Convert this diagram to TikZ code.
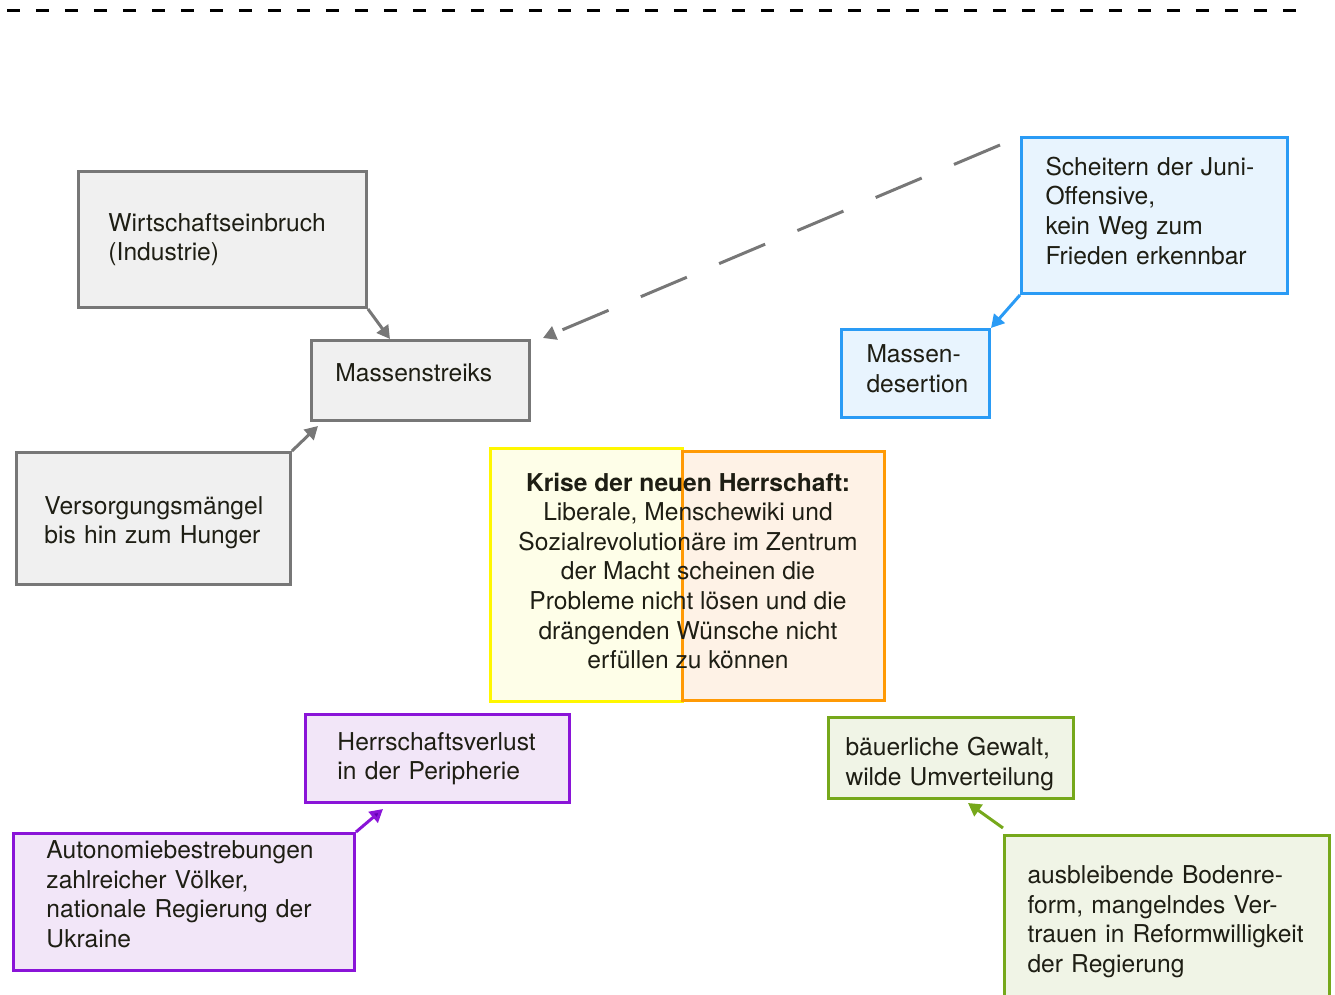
\documentclass[tikz,border=0pt]{standalone}
\usepackage{fontspec}
\setmainfont{TeX Gyre Heros}
\usetikzlibrary{arrows.meta}
\definecolor{greyline}{HTML}{777777}
\definecolor{greyfill}{HTML}{F0F0F0}
\definecolor{blueline}{HTML}{2A9BF5}
\definecolor{bluefill}{HTML}{E8F4FE}
\definecolor{yelline}{HTML}{FFF700}
\definecolor{yelfill}{HTML}{FEFEE8}
\definecolor{oraline}{HTML}{FF9A05}
\definecolor{orafill}{HTML}{FEF2E6}
\definecolor{purline}{HTML}{8A14D8}
\definecolor{purdark}{HTML}{6200B0}
\definecolor{purfill}{HTML}{F2E6F8}
\definecolor{grnline}{HTML}{76A81B}
\definecolor{grnfill}{HTML}{F0F4E6}
\definecolor{textcol}{HTML}{1E1E14}

\begin{document}
\begin{tikzpicture}[x=0.02cm,y=-0.02cm,
  box/.style={draw,line width=0.06cm,anchor=north west,align=left,inner sep=0pt,text=textcol,font=\fontsize{14}{16.8}\selectfont},
  grey/.style={box,draw=greyline,fill=greyfill},
  blue/.style={box,draw=blueline,fill=bluefill},
  purp/.style={box,draw=purline,fill=purfill},
  grn/.style={box,draw=grnline,fill=grnfill},
  arr/.style={-{Triangle[length=0.26cm,width=0.28cm]},line width=0.06cm}]
\useasboundingbox (0,0) rectangle (1335,994);
\draw[line width=0.06cm,dash pattern=on 0.26cm off 0.32cm] (7,10) -- (1300,10);
\node[grey,minimum width=5.76cm,minimum height=2.72cm,text width=4.56cm] (wirt) at (77,170) {Wirtschaftseinbruch\\(Industrie)};
\node[grey,minimum width=4.36cm,minimum height=1.6cm,text width=3.4cm,text depth=0.3cm] (streik) at (310,339) {Massenstreiks};
\node[grey,minimum width=5.48cm,minimum height=2.64cm,text width=4.36cm,text depth=15.1pt] (vers) at (15,451) {Versorgungsmängel\\bis hin zum Hunger};
\node[blue,minimum width=5.32cm,minimum height=3.12cm,text width=4.36cm,text depth=56pt] (scheit) at (1020,136) {Scheitern der Juni-\\Offensive,\\kein Weg zum\\Frieden erkennbar};
\node[blue,minimum width=2.96cm,minimum height=1.76cm,text width=1.96cm,text depth=22.5pt] (desert) at (840,328) {Massen-\\desertion};
\node[box,draw=yelline,fill=yelfill,minimum width=3.84cm,minimum height=5.06cm] (yel) at (489,447) {};
\node[box,draw=oraline,fill=orafill,minimum width=4.04cm,minimum height=4.98cm] (ora) at (681,450) {};
\node[font=\fontsize{14}{16.8}\selectfont,text=textcol,align=center,inner sep=0pt] (krise) at (688,571) {\textbf{Krise der neuen Herrschaft:}\\Liberale, Menschewiki und\\Sozialrevolutionäre im Zentrum\\der Macht scheinen die\\Probleme nicht lösen und die\\drängenden Wünsche nicht\\erfüllen zu können};
\node[purp,minimum width=5.28cm,minimum height=1.76cm,text width=4cm] (herr) at (304,713) {Herrschaftsverlust\\in der Peripherie};
\node[purp,minimum width=6.82cm,minimum height=2.74cm,text width=5.5cm,text depth=59.5pt] (auto) at (12,832) {Autonomiebestrebungen\\zahlreicher Völker,\\nationale Regierung der\\Ukraine};
\node[grn,minimum width=4.9cm,minimum height=1.62cm,text width=4.22cm,text depth=12.8pt] (bauer) at (827,716) {bäuerliche Gewalt,\\wilde Umverteilung};
\node[grn,minimum width=6.5cm,minimum height=3.44cm,text width=5.58cm] (ausbl) at (1003,834) {ausbleibende Bodenre-\\form, mangelndes Ver-\\trauen in Reformwilligkeit\\der Regierung};
\draw[arr,greyline] (wirt.south east) -- ([xshift=1.6cm]streik.north west);
\draw[arr,greyline] (vers.north east) -- ([xshift=0.16cm,yshift=-0.08cm]streik.south west);
\draw[arr,greyline,dash pattern=on 1cm off 0.7cm] ([xshift=-0.4cm,yshift=-0.18cm]scheit.north west) -- ([xshift=0.24cm,yshift=0.02cm]streik.north east);
\draw[arr,blueline] (scheit.south west) -- (desert.north east);
\draw[purline,line width=0.06cm,-{Triangle[length=0.26cm,width=0.28cm,fill=purdark]}] (auto.north east) -- ([xshift=1.58cm,yshift=-0.1cm]herr.south west);
\draw[arr,grnline] ([yshift=0.12cm]ausbl.north west) -- ([xshift=2.82cm,yshift=-0.06cm]bauer.south west);
\end{tikzpicture}
\end{document}
